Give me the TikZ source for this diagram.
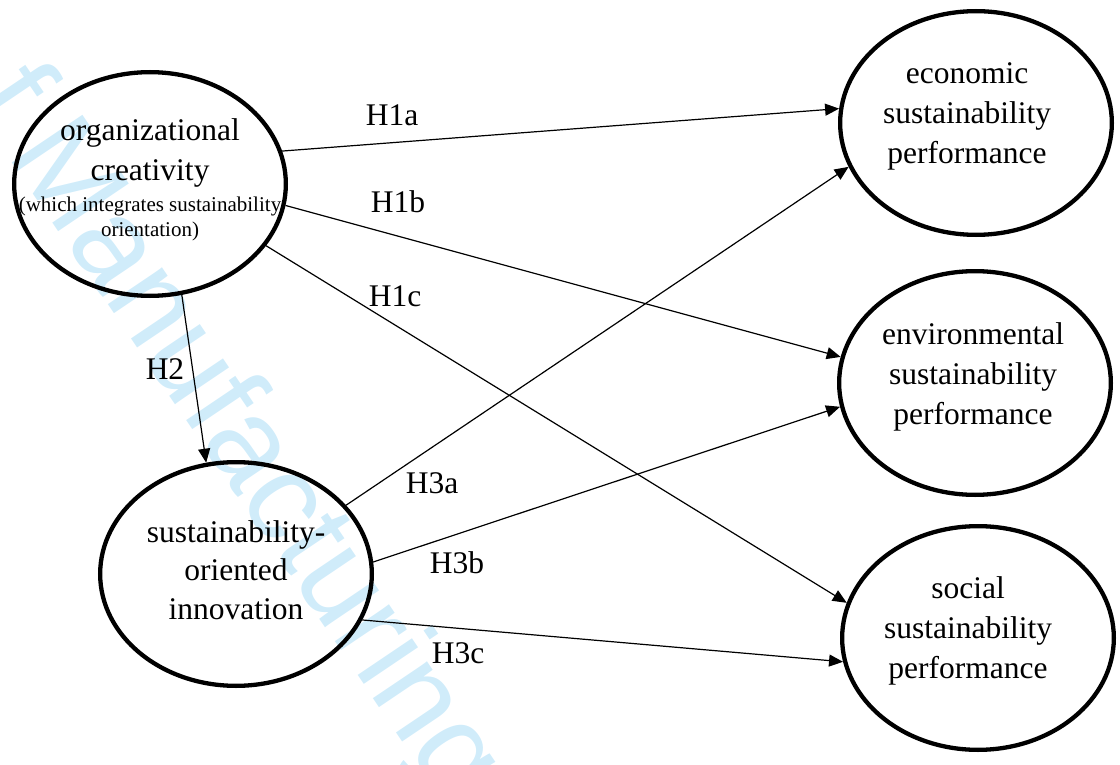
\documentclass[tikz,border=0pt]{standalone}
\usepackage{fontspec}
\setmainfont{Liberation Serif}
\newfontfamily\wmfont{Liberation Sans}
\usetikzlibrary{arrows.meta,shapes.geometric}
\definecolor{wmcyan}{RGB}{208,236,250}
\tikzset{
  ell/.style={ellipse, draw, line width=4.3pt, minimum width=271.7pt, minimum height=223.7pt, inner sep=0pt},
  big/.style={font=\fontsize{31.5}{40}\selectfont, align=center, inner sep=0pt},
  small/.style={font=\fontsize{21}{25}\selectfont, align=center, inner sep=0pt},
  hyp/.style={font=\fontsize{31.5}{38}\selectfont, inner sep=0pt, anchor=base},
  arr/.style={line width=1.2pt, -{Triangle[length=14pt,width=12pt]}},
  wm/.style={anchor=base west, rotate=-56, text=wmcyan, inner sep=0pt, font=\wmfont\fontsize{124}{124}\selectfont}
}
\begin{document}
\begin{tikzpicture}[x=1pt,y=-1pt]
\useasboundingbox (0,0) rectangle (1120,765);
\begin{scope}
\clip (0,0) rectangle (1120,765);
\node[wm] (wmark) at (-30,100) {f\hspace{0.25em}Manufacturing};
\end{scope}

\node[ell] (org) at (150,184) {};
\node[big, yshift=31pt] (orgt) at (org.center) {organizational\\creativity};
\node[small, yshift=-35.3pt] (orgs) at (org.center) {(which integrates sustainability\\orientation)};

\node[ell] (soi) at (236,574) {};
\node[big, yshift=4pt, font=\fontsize{31.5}{38.5}\selectfont] (soit) at (soi.center) {sustainability-\\oriented\\innovation};

\node[ell] (econ) at (976,123) {};
\node[big, yshift=6.5pt, xshift=-9pt] (econt) at (econ.center) {economic\\sustainability\\performance};

\node[ell] (env) at (975,383) {};
\node[big, yshift=6.5pt, xshift=-2pt] (envt) at (env.center) {environmental\\sustainability\\performance};

\node[ell] (soc) at (978,638) {};
\node[big, yshift=7pt, xshift=-10pt] (soct) at (soc.center) {social\\sustainability\\performance};

\draw[arr] (org.14) -- (econ.174);
\draw[arr] (org.351) -- (env.169);
\draw[arr] (org.332) -- (soc.165);
\draw[arr] (org.286) -- (soi.105);
\draw[arr] (soi.32) -- (econ.199);
\draw[arr] (soi.5) -- (env.190);
\draw[arr] (soi.340) -- (soc.190);

\node[hyp] (h1a) at (392,126) {H1a};
\node[hyp] (h1b) at (398,213) {H1b};
\node[hyp] (h1c) at (395,306) {H1c};
\node[hyp] (h2) at (165,379) {H2};
\node[hyp] (h3a) at (432,493) {H3a};
\node[hyp] (h3b) at (457,573) {H3b};
\node[hyp] (h3c) at (458,663) {H3c};
\end{tikzpicture}
\end{document}
